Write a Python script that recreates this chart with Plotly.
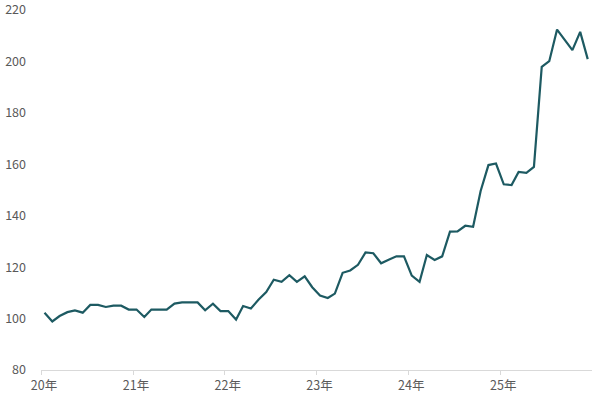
import pandas as pd
import plotly.graph_objects as go

# monthly points, Jan 2020 - Dec 2025 (plotted mid-month)
months = [d.strftime("%Y-%m-15") for d in pd.date_range("2020-01-01", "2025-12-01", freq="MS")]

values = [
    102.3, 98.9, 101.0, 102.5, 103.2, 102.3, 105.3, 105.3, 104.5, 105.0, 105.0, 103.5,   # 2020
    103.5, 100.6, 103.5, 103.5, 103.5, 105.8, 106.3, 106.3, 106.3, 103.2, 105.8, 102.9,  # 2021
    102.9, 99.6, 104.9, 103.9, 107.3, 110.3, 115.1, 114.3, 116.9, 114.3, 116.4, 112.2,   # 2022
    109.0, 108.0, 109.7, 117.8, 118.7, 120.9, 125.7, 125.4, 121.5, 122.9, 124.2, 124.2,  # 2023
    116.7, 114.3, 124.7, 122.8, 124.2, 133.8, 133.9, 136.1, 135.7, 149.6, 159.7, 160.3,  # 2024
    152.2, 151.9, 157.0, 156.7, 159.0, 197.9, 200.1, 212.4, 208.4, 204.4, 211.5, 200.9,  # 2025
]

tick_dates = ["2020-01-01", "2021-01-01", "2022-01-01", "2023-01-01", "2024-01-01", "2025-01-01"]
tick_labels = ["20年", "21年", "22年", "23年", "24年", "25年"]
y_ticks = [80, 100, 120, 140, 160, 180, 200, 220]

fig = go.Figure()
fig.add_trace(go.Scatter(
    x=months, y=values, mode="lines",
    line=dict(color="#1d5a62", width=2.2),
    hoverinfo="skip", showlegend=False, cliponaxis=False,
))

font_family = "Noto Sans CJK JP, Noto Sans, sans-serif"
fig.update_layout(
    width=600, height=395,
    margin=dict(l=41, r=8, t=10, b=25),
    paper_bgcolor="white", plot_bgcolor="white",
    font=dict(family=font_family, size=12.5, color="#595959"),
    showlegend=False,
)
fig.update_xaxes(
    type="date", range=["2020-01-01", "2026-01-01"],
    tickvals=tick_dates, ticktext=tick_labels,
    showgrid=False, zeroline=False,
    showline=True, linecolor="#d9d9d9", linewidth=1,
    ticks="outside", ticklen=4, tickcolor="#d9d9d9",
    tickfont=dict(size=12.5, color="#595959"),
    ticklabelshift=3, ticklabelstandoff=0,
    automargin=False, ticklabeloverflow="allow",
)
fig.update_yaxes(
    range=[80, 220], tickvals=y_ticks,
    showgrid=False, zeroline=False, showline=False,
    ticks="", tickfont=dict(size=12.5, color="#595959"),
    ticklabelstandoff=14, automargin=False, ticklabeloverflow="allow",
)

fig.write_html("out.html")
